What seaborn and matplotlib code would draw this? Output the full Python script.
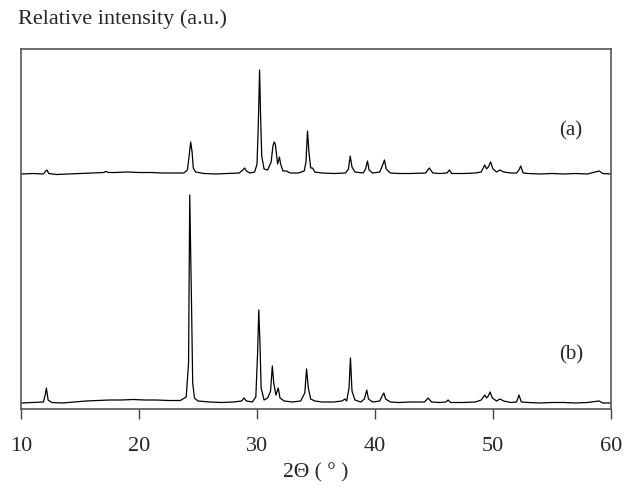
import matplotlib
matplotlib.use("Agg")
import matplotlib.pyplot as plt
import seaborn as sns
import pandas as pd

# ---- data (2-theta in degrees, intensity in a.u.) ----
a_two_theta = [10.0, 11.0, 11.9, 12.1, 12.2, 12.35, 13.0, 14.0, 15.0, 16.0, 17.0, 17.2, 17.4, 18.0,
               19.0, 20.0, 21.0, 22.0, 23.0, 23.8, 24.1, 24.25, 24.38, 24.5, 24.6, 24.8, 25.5,
               26.5, 27.5, 28.5, 28.8, 28.95, 29.1, 29.4, 29.8, 30.0, 30.1, 30.22, 30.3, 30.4,
               30.6, 30.9, 31.2, 31.35, 31.45, 31.55, 31.65, 31.75, 31.9, 32.0, 32.2, 32.5,
               32.8, 33.5, 34.0, 34.15, 34.28, 34.4, 34.55, 34.7, 34.9, 35.5, 36.5, 37.5,
               37.75, 37.9, 38.05, 38.3, 39.0, 39.2, 39.36, 39.5, 39.8, 40.4, 40.65, 40.8,
               40.95, 41.3, 42.0, 43.0, 44.3, 44.6, 44.9, 45.5, 46.1, 46.3, 46.5, 47.5, 48.5,
               49.0, 49.3, 49.45, 49.6, 49.8, 50.0, 50.3, 50.6, 50.9, 51.5, 52.0, 52.2, 52.35,
               52.55, 53.0, 54.0, 55.0, 56.0, 57.0, 58.0, 59.0, 59.3, 60.0]
a_intensity = [0, 0.5, 0, 3, 4, 0.5, -0.5, 0, 0.5, 1, 1.5, 2.5, 1.5, 1.5,
               2, 1.5, 1.5, 1, 1, 1, 4, 18, 32, 22, 6, 2, 0.5,
               0, 0.5, 1, 4, 6, 3, 1, 2, 10, 45, 104, 60, 18,
               5, 4, 12, 28, 32, 30, 20, 10, 17, 10, 3, 3,
               1, 1, 3, 12, 43, 22, 6, 6, 2, 1, 0.5, 1,
               5, 18, 7, 2, 1, 5, 13, 4, 1, 2, 9, 14,
               5, 1, 0.5, 0.5, 1, 6, 1, 0.5, 1, 4, 0.5, 0.5, 1,
               2, 9, 5, 7, 12, 5, 2, 4, 2, 1, 1, 4, 8,
               1, 0.5, 0, 0.5, 0, 0.5, 0, 3, 0.5, 0]

b_two_theta = [10.0, 11.0, 11.9, 12.05, 12.15, 12.3, 12.6, 13.5, 14.5, 15.5, 16.5, 17.5, 18.5,
               19.5, 20.5, 21.5, 22.5, 23.5, 24.0, 24.2, 24.3, 24.38, 24.45, 24.55, 24.7, 25.0,
               26.0, 27.0, 28.0, 28.7, 28.9, 29.1, 29.6, 29.9, 30.05, 30.15, 30.25, 30.35, 30.6,
               30.9, 31.15, 31.3, 31.42, 31.6, 31.8, 31.95, 32.3, 33.0, 33.7, 34.05, 34.2, 34.35,
               34.55, 34.9, 35.5, 36.5, 37.2, 37.45, 37.6, 37.8, 37.92, 38.05, 38.3, 38.8, 39.1,
               39.3, 39.45, 39.8, 40.4, 40.65, 40.75, 40.9, 41.3, 42.0, 43.0, 44.2, 44.5, 44.8,
               45.5, 46.0, 46.2, 46.4, 47.5, 48.5, 49.0, 49.3, 49.45, 49.6, 49.75, 49.95, 50.3,
               50.6, 50.9, 51.5, 52.0, 52.2, 52.4, 53.0, 54.0, 55.0, 56.0, 57.0, 58.0, 59.0,
               59.3, 60.0]
b_intensity = [0, 0.5, 1, 8, 15, 3, 0.5, 0, 1, 2, 2.5, 3, 3,
               3.5, 3, 3, 2.5, 2.5, 6, 40, 208, 150, 100, 20, 5, 2,
               1, 0.5, 1, 2, 5, 2, 1, 6, 50, 93, 60, 15, 3,
               5, 12, 37, 20, 8, 15, 5, 2, 1, 2, 10, 34, 15,
               4, 2, 1, 1, 2, 4, 2, 15, 45, 12, 3, 1, 4,
               13, 4, 1, 2, 8, 10, 4, 1, 0.5, 1, 1, 5, 1,
               0.5, 1, 3, 0.5, 0.5, 1, 3, 8, 5, 7, 11, 5, 2,
               4, 2, 0.5, 1, 8, 1, 0.5, 0, 0.5, 0.5, 0, 0.5, 2,
               0, 0]

offset_a = 235
offset_b = 6
sample_labels = ["(a)", "(b)"]
x_ticks = [10, 20, 30, 40, 50, 60]

df = pd.concat([
    pd.DataFrame({"two_theta": a_two_theta,
                  "y": [v + offset_a for v in a_intensity], "sample": "a"}),
    pd.DataFrame({"two_theta": b_two_theta,
                  "y": [v + offset_b for v in b_intensity], "sample": "b"}),
])

sns.set_theme(style="white")
plt.rcParams["font.family"] = ["Liberation Serif", "DejaVu Serif"]

fig = plt.figure(figsize=(6.25, 4.88), dpi=100)
ax = fig.add_axes([21 / 625, 1 - 409 / 488, 590 / 625, 360 / 488])

sns.lineplot(data=df, x="two_theta", y="y", units="sample", estimator=None,
             color="black", linewidth=0.9, ax=ax, sort=False)

ax.set_xlim(10, 60)
ax.set_ylim(0, 360)
ax.set_xticks(x_ticks)
ax.set_xticklabels([str(t) for t in x_ticks], fontsize=16)
ax.set_yticks([])
ax.set_ylabel("")
ax.set_xlabel("2\u0398 ( \u00b0 )", fontsize=15.5, labelpad=5)
ax.tick_params(axis="x", direction="out", length=7, width=1, color="#444444",
               bottom=True, pad=13)
for s in ax.spines.values():
    s.set_color("#555555")
    s.set_linewidth(1.2)

ax.text(56.6, offset_a + 43, sample_labels[0], fontsize=15, ha="center", va="center")
ax.text(56.6, offset_b + 48, sample_labels[1], fontsize=15, ha="center", va="center")

fig.text(18 / 625, 1 - 19 / 488, "Relative intensity (a.u.)", fontsize=16,
         ha="left", va="center")

fig.savefig("out.png", dpi=100)
